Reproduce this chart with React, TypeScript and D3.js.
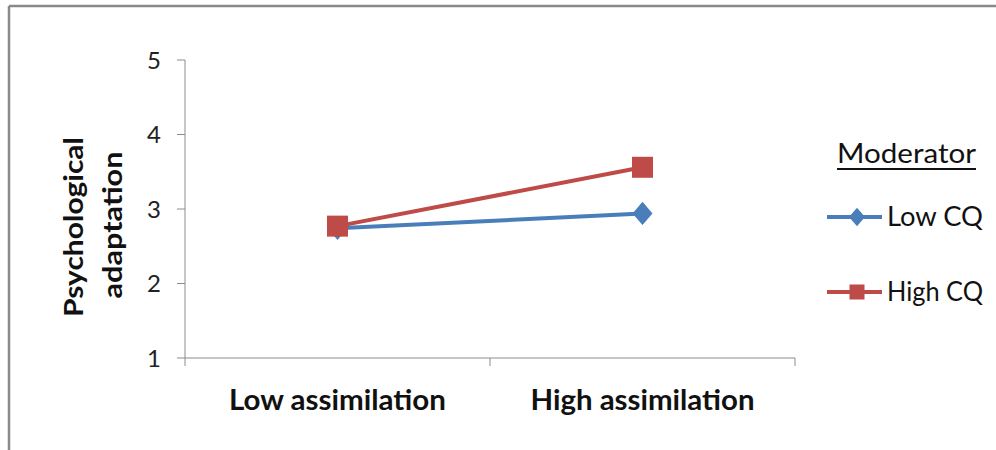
import React from "react";
import * as d3 from "d3";

const categories = ["Low assimilation", "High assimilation"];
const seriesNames = ["Low CQ", "High CQ"];
const lowCQ = [2.74, 2.94];
const highCQ = [2.77, 3.56];
const yTicks = [1, 2, 3, 4, 5];
const yTitle = ["Psychological", "adaptation"];
const legendTitle = "Moderator";

const W = 996;
const H = 450;
const FONT = "Lato, 'Open Sans', sans-serif";

export default function App() {
  const x0 = 185;
  const x1 = 795;
  const yScale = d3.scaleLinear().domain([1, 5]).range([358, 60]);
  const band = d3.scaleBand<string>().domain(categories).range([x0, x1]);
  const cx = (c: string) => (band(c) as number) + band.bandwidth() / 2;
  const labelWidths = [217, 224];
  const line = d3
    .line<[number, number]>()
    .x((d) => d[0])
    .y((d) => d[1]);
  const series = [
    { name: seriesNames[0], values: lowCQ, color: "#4A7EBB", marker: "diamond" },
    { name: seriesNames[1], values: highCQ, color: "#BE4B48", marker: "square" },
  ];
  const marker = (m: string, x: number, y: number, color: string, s: number) =>
    m === "square" ? (
      <rect x={x - s / 2} y={y - s / 2} width={s} height={s} fill={color} />
    ) : (
      <path
        d={`M${x},${y - s * 0.58}L${x + s * 0.5},${y}L${x},${y + s * 0.58}L${x - s * 0.5},${y}Z`}
        fill={color}
      />
    );
  const bounds = [x0, ...categories.map((c) => (band(c) as number) + band.bandwidth())];
  return (
    <svg
      width={W}
      height={H}
      style={{ position: "absolute", left: 0, top: 0, background: "#fff" }}
    >
      <rect x={0} y={0} width={W} height={H} fill="#fff" />
      <line x1={9} y1={6} x2={W} y2={6} stroke="#8a8a8a" strokeWidth={2.5} />
      <line x1={9} y1={6} x2={9} y2={H} stroke="#8a8a8a" strokeWidth={2.5} />
      {/* y axis */}
      <line x1={x0} y1={yScale(5)} x2={x0} y2={yScale(1)} stroke="#8c8c8c" strokeWidth={1} />
      {yTicks.map((t) => (
        <g key={t}>
          <line x1={x0 - 8} y1={yScale(t)} x2={x0} y2={yScale(t)} stroke="#8c8c8c" />
          <text
            x={x0 - 24}
            y={yScale(t)}
            dy="0.36em"
            textAnchor="end"
            fontFamily={FONT}
            fontSize={24}
            fill="#222"
          >
            {t}
          </text>
        </g>
      ))}
      {/* x axis */}
      <line x1={x0} y1={yScale(1)} x2={x1} y2={yScale(1)} stroke="#8c8c8c" />
      {bounds.map((b, i) => (
        <line key={i} x1={b} y1={yScale(1)} x2={b} y2={yScale(1) + 8} stroke="#8c8c8c" />
      ))}
      {categories.map((c, i) => (
        <text
          key={c}
          x={cx(c)}
          y={410}
          textAnchor="middle"
          fontFamily={FONT}
          fontSize={28}
          fontWeight="bold"
          fill="#111"
          textLength={labelWidths[i]}
          lengthAdjust="spacingAndGlyphs"
        >
          {c}
        </text>
      ))}
      {/* y title */}
      <text
        transform="translate(83,227) rotate(-90)"
        textAnchor="middle"
        fontFamily={FONT}
        fontSize={26}
        fontWeight="bold"
        fill="#111"
        textLength={180}
        lengthAdjust="spacingAndGlyphs"
      >
        {yTitle[0]}
      </text>
      <text
        transform="translate(122,225) rotate(-90)"
        textAnchor="middle"
        fontFamily={FONT}
        fontSize={26}
        fontWeight="bold"
        fill="#111"
        textLength={147}
        lengthAdjust="spacingAndGlyphs"
      >
        {yTitle[1]}
      </text>
      {/* series */}
      {series.map((s) => {
        const pts = categories.map((c, i) => [cx(c), yScale(s.values[i])] as [number, number]);
        return (
          <g key={s.name}>
            <path d={line(pts) || ""} fill="none" stroke={s.color} strokeWidth={4} />
            {pts.map((p, i) => (
              <g key={i}>{marker(s.marker, p[0], p[1], s.color, s.marker === "square" ? 21 : 20)}</g>
            ))}
          </g>
        );
      })}
      {/* legend */}
      <text
        x={837}
        y={163}
        fontFamily={FONT}
        fontSize={26}
        fill="#111"
        textLength={139}
        lengthAdjust="spacingAndGlyphs"
      >
        {legendTitle}
      </text>
      <line x1={837} y1={169} x2={976} y2={169} stroke="#111" strokeWidth={2} />
      {series.map((s, i) => {
        const ly = 217 + i * 75;
        return (
          <g key={s.name}>
            <line x1={827} y1={ly} x2={882} y2={ly} stroke={s.color} strokeWidth={4} />
            {marker(s.marker, 857, ly, s.color, s.marker === "square" ? 15 : 16)}
            <text
              x={887}
              y={ly}
              dy="0.36em"
              fontFamily={FONT}
              fontSize={26}
              fill="#111"
              textLength={96}
              lengthAdjust="spacingAndGlyphs"
            >
              {s.name}
            </text>
          </g>
        );
      })}
    </svg>
  );
}
